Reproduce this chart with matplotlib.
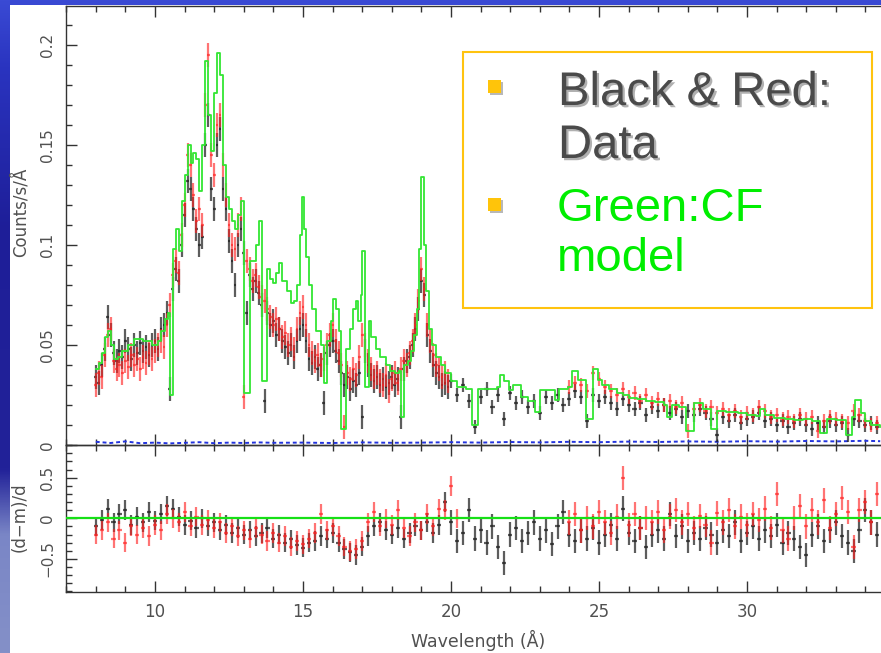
import numpy as np
import matplotlib
matplotlib.use("Agg")
import matplotlib.pyplot as plt
import matplotlib.patheffects as pe
from matplotlib.patches import Rectangle
from matplotlib.colors import LinearSegmentedColormap
from matplotlib.ticker import MultipleLocator, FixedLocator, FixedFormatter

# ---------------- data ----------------
# black data, 8.0-19.9 A (0.1 A bins) and 20.0-34.4 A (0.2 A bins)
BLACK_WL_A = np.round(np.arange(8.0, 19.95, 0.1), 2)
BLACK_A = [0.034, 0.031, 0.040, 0.048, 0.064, 0.055, 0.046, 0.042, 0.047, 0.044,
           0.052, 0.048, 0.043, 0.050, 0.046, 0.051, 0.047, 0.049, 0.045, 0.050,
           0.052, 0.048, 0.058, 0.060, 0.066, 0.028, 0.078, 0.088, 0.082, 0.100,
           0.115, 0.132, 0.128, 0.118, 0.108, 0.100, 0.104, 0.150, 0.165, 0.128,
           0.118, 0.150, 0.158, 0.128, 0.118, 0.102, 0.092, 0.080, 0.100, 0.108,
           0.096, 0.066, 0.085, 0.078, 0.082, 0.076, 0.070, 0.022, 0.066, 0.060,
           0.062, 0.055, 0.058, 0.052, 0.049, 0.046, 0.050, 0.044, 0.052, 0.058,
           0.060, 0.052, 0.043, 0.041, 0.044, 0.038, 0.040, 0.021, 0.046, 0.050,
           0.052, 0.047, 0.042, 0.036, 0.030, 0.034, 0.028, 0.032, 0.030, 0.036,
           0.014, 0.047, 0.040, 0.035, 0.032, 0.034, 0.030, 0.033, 0.029, 0.031,
           0.034, 0.030, 0.033, 0.014, 0.038, 0.042, 0.044, 0.050, 0.058, 0.068,
           0.082, 0.075, 0.055, 0.047, 0.040, 0.036, 0.034, 0.030, 0.031, 0.029]
BLACK_WL_B = np.round(np.arange(20.0, 34.45, 0.2), 2)
BLACK_B = [0.032, 0.025, 0.030, 0.022, 0.009, 0.024, 0.028, 0.019, 0.025, 0.013,
           0.026, 0.021, 0.024, 0.019, 0.022, 0.016, 0.024, 0.021, 0.025, 0.020,
           0.023, 0.027, 0.024, 0.012, 0.025, 0.022, 0.024, 0.021, 0.018, 0.023,
           0.020, 0.018, 0.021, 0.015, 0.019, 0.017, 0.020, 0.016, 0.018, 0.014,
           0.017, 0.015, 0.018, 0.016, 0.013, 0.005, 0.014, 0.012, 0.015, 0.011,
           0.013, 0.014, 0.016, 0.012, 0.013, 0.010, 0.012, 0.009, 0.011, 0.013,
           0.010, 0.008, 0.011, 0.009, 0.012, 0.010, 0.011, 0.005, 0.013, 0.012,
           0.010, 0.011, 0.009]

# red data, 8.0-19.9 A (0.1 A bins) and 24.0-34.4 A (0.2 A bins)
RED_WL_A = np.round(np.arange(8.0, 19.95, 0.1), 2)
RED_A = [0.030, 0.036, 0.034, 0.045, 0.055, 0.058, 0.042, 0.038, 0.040, 0.036,
         0.042, 0.039, 0.045, 0.040, 0.043, 0.038, 0.044, 0.041, 0.046, 0.043,
         0.047, 0.050, 0.052, 0.049, 0.060, 0.070, 0.085, 0.092, 0.086, 0.105,
         0.120, 0.145, 0.140, 0.125, 0.112, 0.118, 0.110, 0.170, 0.195, 0.145,
         0.135, 0.160, 0.165, 0.140, 0.125, 0.110, 0.100, 0.098, 0.110, 0.118,
         0.024, 0.092, 0.088, 0.082, 0.085, 0.079, 0.074, 0.072, 0.068, 0.064,
         0.060, 0.063, 0.058, 0.054, 0.056, 0.050, 0.053, 0.048, 0.058, 0.066,
         0.069, 0.060, 0.050, 0.046, 0.042, 0.045, 0.040, 0.043, 0.050, 0.055,
         0.060, 0.052, 0.046, 0.040, 0.009, 0.036, 0.033, 0.038, 0.035, 0.044,
         0.055, 0.050, 0.042, 0.038, 0.034, 0.036, 0.032, 0.030, 0.035, 0.027,
         0.033, 0.036, 0.031, 0.038, 0.042, 0.040, 0.046, 0.052, 0.060, 0.072,
         0.088, 0.078, 0.060, 0.052, 0.045, 0.040, 0.038, 0.034, 0.036, 0.032]
RED_WL_B = np.round(np.arange(24.0, 34.45, 0.2), 2)
RED_B = [0.029, 0.031, 0.030, 0.027, 0.036, 0.033, 0.029, 0.027, 0.025, 0.028,
         0.024, 0.026, 0.022, 0.025, 0.021, 0.023, 0.020, 0.022, 0.019, 0.021,
         0.007, 0.018, 0.020, 0.017, 0.019, 0.016, 0.018, 0.015, 0.017, 0.014,
         0.016, 0.015, 0.019, 0.017, 0.014, 0.015, 0.013, 0.014, 0.012, 0.015,
         0.013, 0.014, 0.007, 0.012, 0.014, 0.013, 0.012, 0.011, 0.017, 0.015,
         0.012, 0.010, 0.011]

# green CF model (step histogram: left bin edge, value)
MODEL_WL = [8.0, 8.1, 8.2, 8.3, 8.4, 8.5, 8.6, 8.75, 8.9, 9.1, 9.3, 9.6, 9.9, 10.1,
            10.2, 10.35, 10.45, 10.5, 10.62, 10.7, 10.8, 10.9, 11.0, 11.1, 11.2,
            11.3, 11.4, 11.5, 11.6, 11.7, 11.8, 11.9, 12.0, 12.1, 12.2, 12.3, 12.4,
            12.5, 12.6, 12.7, 12.8, 12.9, 13.0, 13.2, 13.4, 13.5, 13.6, 13.77, 13.9,
            14.0, 14.1, 14.2, 14.3, 14.45, 14.6, 14.7, 14.8, 14.9, 14.97, 15.05,
            15.1, 15.2, 15.3, 15.45, 15.6, 15.72, 15.8, 15.95, 16.02, 16.1, 16.2,
            16.3, 16.45, 16.6, 16.7, 16.78, 16.85, 16.95, 17.0, 17.08, 17.22, 17.3,
            17.45, 17.6, 17.8, 17.95, 18.1, 18.25, 18.3, 18.42, 18.55, 18.65, 18.75,
            18.85, 18.92, 19.0, 19.08, 19.15, 19.25, 19.35, 19.5, 19.65, 19.8, 20.0,
            20.2, 20.5, 20.7, 20.9, 21.2, 21.55, 21.65, 21.8, 21.95, 22.1, 22.35,
            22.6, 22.85, 23.0, 23.5, 23.65, 23.95, 24.1, 24.3, 24.55, 24.8, 24.95,
            25.1, 25.35, 25.6, 25.8, 26.0, 26.3, 26.6, 26.9, 27.2, 27.3, 27.45,
            27.7, 27.95, 28.2, 28.5, 28.8, 29.0, 29.3, 29.7, 30.0, 30.3, 30.45,
            30.6, 30.9, 31.3, 31.6, 31.9, 32.2, 32.45, 32.7, 33.0, 33.35, 33.55,
            33.65, 33.85, 34.0, 34.2, 34.5]
MODEL = [0.038, 0.041, 0.046, 0.054, 0.057, 0.050, 0.043, 0.044, 0.047, 0.050,
         0.053, 0.052, 0.050, 0.052, 0.057, 0.063, 0.066, 0.025, 0.098, 0.108,
         0.097, 0.122, 0.135, 0.150, 0.141, 0.146, 0.143, 0.127, 0.150, 0.192,
         0.165, 0.147, 0.176, 0.196, 0.185, 0.140, 0.124, 0.118, 0.112, 0.108,
         0.115, 0.122, 0.026, 0.092, 0.100, 0.112, 0.032, 0.088, 0.083, 0.081,
         0.086, 0.091, 0.082, 0.077, 0.071, 0.072, 0.080, 0.105, 0.124, 0.108,
         0.094, 0.080, 0.068, 0.057, 0.050, 0.031, 0.052, 0.062, 0.073, 0.068,
         0.057, 0.008, 0.048, 0.058, 0.068, 0.072, 0.062, 0.075, 0.097, 0.029,
         0.062, 0.054, 0.048, 0.044, 0.040, 0.037, 0.036, 0.037, 0.014, 0.040,
         0.042, 0.047, 0.055, 0.068, 0.098, 0.134, 0.100, 0.077, 0.058, 0.050,
         0.044, 0.040, 0.036, 0.032, 0.029, 0.028, 0.010, 0.028, 0.028, 0.029,
         0.035, 0.032, 0.0275, 0.030, 0.024, 0.022, 0.0165, 0.0275, 0.0225, 0.028,
         0.029, 0.037, 0.0325, 0.013, 0.038, 0.0325, 0.030, 0.028, 0.026, 0.025,
         0.0235, 0.023, 0.022, 0.0215, 0.020, 0.014, 0.020, 0.019, 0.007, 0.021,
         0.018, 0.008, 0.017, 0.0165, 0.016, 0.015, 0.0145, 0.018, 0.015, 0.0135,
         0.013, 0.0125, 0.013, 0.012, 0.006, 0.013, 0.0125, 0.005, 0.014, 0.0225,
         0.016, 0.012, 0.010, 0.009]

# background spectrum (blue, near zero)
BKG_WL = [8.0, 8.5, 9.0, 9.5, 10.0, 10.5, 11.0, 11.5, 12.0, 12.5, 13.0, 13.5, 14.0,
          15.0, 16.0, 17.0, 18.0, 19.0, 20.0, 21.0, 22.0, 23.0, 24.0, 25.0, 26.0,
          27.0, 28.0, 29.0, 30.0, 31.0, 32.0, 33.0, 34.0, 34.5]
BKG = [0.0016, 0.0010, 0.0018, 0.0009, 0.0012, 0.0008, 0.0011, 0.0014, 0.0009,
       0.0012, 0.0010, 0.0013, 0.0011, 0.0012, 0.0010, 0.0013, 0.0011, 0.0012,
       0.0014, 0.0012, 0.0015, 0.0013, 0.0016, 0.0014, 0.0017, 0.0015, 0.0018,
       0.0016, 0.0019, 0.0017, 0.0020, 0.0018, 0.0021, 0.0019]

# residuals (d-m)/d
RES_BLACK_WL = np.round(np.arange(8.0, 34.45, 0.2), 2)
RES_BLACK = [-0.10, -0.02, 0.12, -0.05, 0.05, 0.10, -0.08, 0.02, -0.05, 0.08,
             -0.03, 0.05, 0.15, 0.12, 0.02, -0.08, -0.03, -0.12, 0.00, -0.10,
             -0.05, -0.15, -0.08, -0.18, -0.12, -0.20, -0.15, -0.22, -0.18, -0.12,
             -0.25, -0.20, -0.30, -0.26, -0.33, -0.36, -0.30, -0.28, -0.22, -0.25,
             -0.18, -0.30, -0.38, -0.42, -0.45, -0.35, -0.22, -0.10, -0.05, -0.15,
             -0.20, -0.12, -0.25, -0.18, -0.10, -0.15, -0.05, -0.18, -0.08, 0.20,
             -0.05, -0.28, -0.18, 0.10, -0.25, -0.15, -0.30, -0.10, -0.35, -0.55,
             -0.20, -0.12, -0.28, -0.18, -0.05, -0.25, -0.15, -0.32, -0.10, 0.08,
             -0.20, -0.28, -0.15, -0.25, -0.12, -0.30, -0.20, -0.08, -0.25, 0.12,
             -0.18, -0.28, -0.12, -0.35, -0.20, -0.15, -0.25, 0.05, -0.22, -0.10,
             -0.28, -0.18, -0.25, -0.12, -0.20, -0.30, -0.15, -0.22, -0.05, -0.28,
             -0.18, -0.10, -0.25, -0.15, -0.22, -0.08, -0.30, -0.18, -0.25, -0.35,
             -0.45, -0.20, -0.10, -0.28, -0.15, -0.05, -0.22, -0.30, -0.40, -0.15,
             0.10, -0.05, -0.20]
RES_RED_WL_A = np.round(np.arange(8.0, 20.25, 0.2), 2)
RES_RED_A = [-0.20, -0.15, -0.05, -0.25, -0.15, -0.30, -0.10, -0.20, -0.12, -0.22,
             -0.08, -0.15, 0.05, 0.00, -0.05, 0.08, -0.10, 0.02, -0.08, -0.02,
             -0.12, -0.05, -0.18, -0.10, -0.22, -0.15, -0.25, -0.12, -0.20, -0.28,
             -0.18, -0.30, -0.22, -0.35, -0.28, -0.32, -0.25, -0.18, 0.05, -0.15,
             -0.10, -0.22, -0.35, -0.40, -0.38, -0.28, -0.05, 0.08, -0.10, 0.00,
             -0.08, 0.10, -0.12, -0.22, -0.05, -0.15, 0.05, -0.10, 0.12, 0.10,
             0.40, 0.00]
RES_RED_WL_B = np.round(np.arange(24.0, 34.45, 0.2), 2)
RES_RED_B = [-0.05, 0.05, -0.15, 0.00, -0.10, 0.08, -0.05, -0.18, 0.02, 0.50,
             -0.08, 0.05, -0.12, 0.00, -0.05, 0.08, -0.15, 0.02, 0.10, -0.05,
             0.05, -0.12, 0.03, -0.08, -0.30, 0.06, -0.05, 0.10, -0.10, 0.02,
             -0.08, 0.05, -0.02, 0.12, -0.12, 0.30, -0.15, -0.25, 0.00, 0.15,
             -0.10, 0.10, -0.05, 0.22, -0.12, 0.05, 0.25, 0.08, -0.35, 0.10,
             0.20, -0.05, 0.30]

ERR_A, ERR_B = 0.006, 0.0035
RERR_A, RERR_B = 0.12, 0.15

X_TICKS = [10, 15, 20, 25, 30]
Y_TICKS_TOP = [0, 0.05, 0.1, 0.15, 0.2]
Y_TICKLABELS_TOP = ["0", "0.05", "0.1", "0.15", "0.2"]
Y_TICKS_BOT = [-0.5, 0, 0.5]
Y_TICKLABELS_BOT = ["\u22120.5", "0", "0.5"]

# ---------------- figure ----------------
W, H = 881, 653
fig = plt.figure(figsize=(W / 100, H / 100), dpi=100)


def fx(x):
    return x / W


def fy(y):
    return 1 - y / H


# slide background
bg = fig.add_axes([0, 0, 1, 1], zorder=-10)
cmap = LinearSegmentedColormap.from_list(
    "slide", [(0, "#3a4ad4"), (0.1, "#2a34c0"), (0.35, "#1e1e98"),
              (0.72, "#222299"), (0.82, "#7a86c6"), (1, "#8490c8")])
bg.imshow(np.linspace(0, 1, 256).reshape(-1, 1), aspect="auto", cmap=cmap,
          extent=[0, 1, 0, 1])
bg.add_patch(Rectangle((10 / W, 0), 1, (H - 5) / H, transform=bg.transAxes,
                       facecolor="white", edgecolor="none"))
bg.set_xlim(0, 1)
bg.set_ylim(0, 1)
bg.axis("off")

X0, XR, PXA = 66.2, 900, 29.6
xlim = (7.0, 7.0 + (XR - X0) / PXA)
ax1 = fig.add_axes([fx(X0), fy(445), (XR - X0) / W, (445 - 6) / H])
ax2 = fig.add_axes([fx(X0), fy(592), (XR - X0) / W, (592 - 445) / H])

TXT = "#505050"
for ax in (ax1, ax2):
    ax.set_facecolor("none")
    ax.set_xlim(*xlim)
    ax.xaxis.set_major_locator(FixedLocator(X_TICKS))
    ax.xaxis.set_minor_locator(MultipleLocator(1))
    ax.tick_params(which="both", direction="in", top=True, right=True,
                   color="#333333", width=1.0)
    ax.tick_params(which="major", length=8)
    ax.tick_params(which="minor", length=4.5)
    ax.tick_params(axis="y", which="major", labelsize=11, labelcolor=TXT,
                   pad=8, labelrotation=90)
    ax.tick_params(axis="x", which="major", labelsize=12, labelcolor=TXT, pad=8)
    for s in ax.spines.values():
        s.set_color("#333333")
        s.set_linewidth(1.0)

# ---- top panel ----
ax1.set_ylim(0, (445 - 6) / 2000)
ax1.yaxis.set_major_locator(FixedLocator(Y_TICKS_TOP))
ax1.yaxis.set_major_formatter(FixedFormatter(Y_TICKLABELS_TOP))
ax1.yaxis.set_minor_locator(MultipleLocator(0.01))
ax1.tick_params(axis="x", labelbottom=False)

ax1.plot(BKG_WL, BKG, color="#2233dd", lw=1.4, ls=(0, (2, 1.5)), zorder=2)

ekw = dict(fmt="none", capsize=0, elinewidth=1.6)
BLK = (0.12, 0.12, 0.12, 0.72)
RED = (1.0, 0.12, 0.12, 0.62)
ax1.errorbar(BLACK_WL_A, BLACK_A, yerr=ERR_A, xerr=0.045, ecolor=BLK, zorder=3, **ekw)
ax1.errorbar(BLACK_WL_B, BLACK_B, yerr=ERR_B, xerr=0.07, ecolor=BLK, zorder=3, **ekw)
ax1.errorbar(RED_WL_A, RED_A, yerr=ERR_A, xerr=0.045, ecolor=RED, zorder=4, **ekw)
ax1.errorbar(RED_WL_B, RED_B, yerr=ERR_B, xerr=0.07, ecolor=RED, zorder=4, **ekw)
ax1.plot(MODEL_WL, MODEL, drawstyle="steps-post", color="#33e633", lw=1.3, zorder=5)

# ---- bottom panel ----
ax2.set_ylim(-(592 - 518.3) / 81.2, (518.3 - 445) / 81.2)
ax2.yaxis.set_major_locator(FixedLocator(Y_TICKS_BOT))
ax2.yaxis.set_major_formatter(FixedFormatter(Y_TICKLABELS_BOT))
ax2.yaxis.set_minor_locator(MultipleLocator(0.1))
ax2.errorbar(RES_BLACK_WL[:60], RES_BLACK[:60], yerr=RERR_A, xerr=0.07,
             ecolor=BLK, zorder=3, **ekw)
ax2.errorbar(RES_BLACK_WL[60:], RES_BLACK[60:], yerr=RERR_B, xerr=0.07,
             ecolor=BLK, zorder=3, **ekw)
ax2.errorbar(RES_RED_WL_A, RES_RED_A, yerr=RERR_A, xerr=0.07,
             ecolor=RED, zorder=4, **ekw)
ax2.errorbar(RES_RED_WL_B, RES_RED_B, yerr=RERR_B, xerr=0.07,
             ecolor=RED, zorder=4, **ekw)
ax2.axhline(0, color="#16e016", lw=1.6, zorder=5)

for lab in ax1.get_yticklabels() + ax2.get_yticklabels():
    lab.set_va("center")

# axis titles
fig.text(fx(20), fy(212), "Counts/s/\u00c5", rotation=90, ha="center", va="center",
         fontsize=12, color=TXT)
fig.text(fx(20), fy(517), "(d\u2212m)/d", rotation=90, ha="center", va="center",
         fontsize=12, color=TXT)
fig.text(fx(478), fy(647), "Wavelength (\u00c5)", ha="center", va="baseline",
         fontsize=12.5, color=TXT)

# ---- legend box (slide text) ----
fig.patches.append(Rectangle((fx(463), fy(308)), (872 - 463) / W, (308 - 52) / H,
                             transform=fig.transFigure, facecolor="white",
                             edgecolor="#ffc30f", lw=1.5, zorder=20))
for cy in (86.5, 204):
    fig.patches.append(Rectangle((fx(490), fy(cy + 6.5) - 2 / H), 13 / W, 13 / H,
                                 transform=fig.transFigure, facecolor="#b8b8b8",
                                 edgecolor="none", zorder=21))
    fig.patches.append(Rectangle((fx(488), fy(cy + 6.5)), 13 / W, 13 / H,
                                 transform=fig.transFigure, facecolor="#ffc40a",
                                 edgecolor="none", zorder=22))

LFONT = dict(fontsize=34, family="Liberation Sans", ha="left", va="baseline", zorder=23)
shadow = [pe.withSimplePatchShadow(offset=(1.6, -1.6), shadow_rgbFace="#b0b0b0", alpha=1.0)]
for txt, yb in (("Black & Red:", 105), ("Data", 158)):
    fig.text(fx(558), fy(yb), txt, color="#4a4a4a", path_effects=shadow, **LFONT)
for txt, yb in (("Green:CF", 221), ("model", 271)):
    fig.text(fx(557), fy(yb), txt, color="#00ee00", **LFONT)

fig.savefig("out.png", dpi=100)
